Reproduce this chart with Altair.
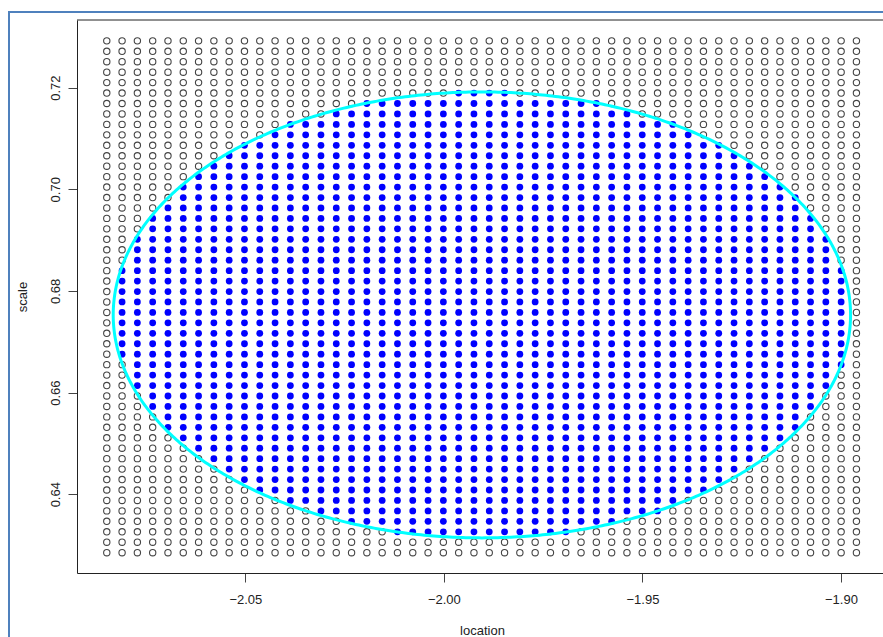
import numpy as np
import pandas as pd
import altair as alt

# Grid of candidate (location, scale) pairs
loc_range = [-2.0849, -1.8961]
scale_range = [0.6285, 0.7292]
n_loc = 50
n_scale = 50

# Confidence region: centre and half-widths of the ellipse
centre = [-1.99043, 0.67528]
half_axes = [0.09285, 0.04387]

# Tick values
x_ticks = [-2.05, -2.00, -1.95, -1.90]
y_ticks = [0.64, 0.66, 0.68, 0.70, 0.72]

x_domain = [-2.0924, -1.88941]
y_domain = [0.6245, 0.7333]

W, H = 806, 553

locs = np.linspace(loc_range[0], loc_range[1], n_loc)
scales = np.linspace(scale_range[0], scale_range[1], n_scale)
gx, gy = np.meshgrid(locs, scales)
grid = pd.DataFrame({"location": gx.ravel(), "scale": gy.ravel()})
d = ((grid["location"] - centre[0]) / half_axes[0]) ** 2 + \
    ((grid["scale"] - centre[1]) / half_axes[1]) ** 2
grid["inside"] = d <= 1.0

t = np.linspace(0, 2 * np.pi, 721)
ellipse = pd.DataFrame({
    "i": np.arange(len(t)),
    "location": centre[0] + half_axes[0] * np.cos(t),
    "scale": centre[1] + half_axes[1] * np.sin(t),
})

font = "Liberation Sans"

x_enc = alt.X(
    "location:Q",
    scale=alt.Scale(domain=x_domain, nice=False, zero=False),
    axis=alt.Axis(
        values=x_ticks, format=".2f", title="location",
        grid=False, domainColor="#222", tickColor="#444", tickSize=9,
        labelPadding=11, labelFontSize=13, labelColor="#222", labelFont=font,
        titleFontSize=13, titleFontWeight="normal", titleColor="#222", titleFont=font,
        titleX=405, titleY=61, titleBaseline="alphabetic", titleAlign="center",
        labelFlush=False, labelOverlap=False,
    ),
)
y_enc = alt.Y(
    "scale:Q",
    scale=alt.Scale(domain=y_domain, nice=False, zero=False),
    axis=alt.Axis(
        values=y_ticks, format=".2f", title="scale",
        grid=False, domainColor="#222", tickColor="#444", tickSize=9,
        labelPadding=9, labelAngle=270, labelAlign="center", labelBaseline="alphabetic",
        labelFontSize=13, labelColor="#222", labelFont=font,
        titleFontSize=13, titleFontWeight="normal", titleColor="#222", titleFont=font,
        titleAngle=270, titleX=-50.6, titleY=276.5, titleBaseline="alphabetic",
        titleAlign="center", labelFlush=False, labelOverlap=False,
    ),
)

open_pts = alt.Chart(grid).transform_filter("!datum.inside").mark_point(
    shape="circle", filled=False, size=40, strokeWidth=1.1, color="#444", opacity=1
).encode(x=x_enc, y=y_enc)

filled_pts = alt.Chart(grid).transform_filter("datum.inside").mark_circle(
    size=46, color="#0000ff", opacity=1
).encode(x="location:Q", y="scale:Q")

ring = alt.Chart(ellipse).mark_line(color="#00ffff", strokeWidth=3).encode(
    x="location:Q", y="scale:Q", order="i:Q"
)

# Top edge of the plot box
box_top = alt.Chart(pd.DataFrame({"a": [0]})).mark_rule(color="#222", strokeWidth=1).encode(
    x=alt.value(0), x2=alt.value(W), y=alt.value(0)
)

# Blue page frame
frame_left = alt.Chart(pd.DataFrame({"a": [0]})).mark_rule(color="#4f81bd", strokeWidth=2).encode(
    x=alt.value(-68), y=alt.value(-8), y2=alt.value(H + 64)
)
frame_top = alt.Chart(pd.DataFrame({"a": [0]})).mark_rule(color="#4f81bd", strokeWidth=2).encode(
    x=alt.value(-69), x2=alt.value(W), y=alt.value(-8)
)

chart = alt.layer(open_pts, filled_pts, ring, box_top, frame_left, frame_top).properties(
    width=W, height=H,
    autosize=alt.AutoSizeParams(type="none"),
    padding={"left": 77, "top": 20, "right": 0, "bottom": 64},
    background="white",
).configure_view(strokeWidth=0)

chart.save("out.html", embed_options={"renderer": "svg", "actions": False})
